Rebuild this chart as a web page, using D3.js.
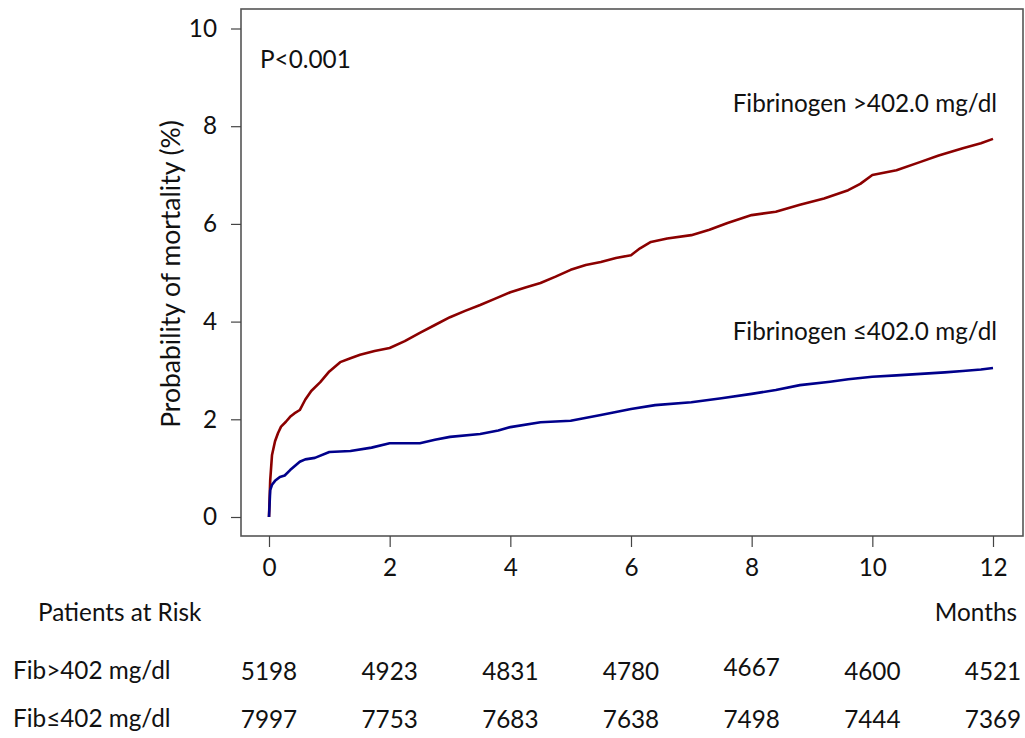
<!DOCTYPE html>
<html><head><meta charset="utf-8">
<script src="https://cdn.jsdelivr.net/npm/d3@7"></script>
<style>body{margin:0;background:#fff}svg{display:block}text{font-family:Lato,"Open Sans",sans-serif;fill:#111}</style>
</head><body>
<svg id="c" width="1025" height="738"></svg>
<script>
const months=[0,2,4,6,8,10,12];
const yTicks=[0,2,4,6,8,10];
const highT=[0,0.02,0.05,0.1,0.15,0.2,0.28,0.35,0.42,0.51,0.6,0.7,0.85,1.0,1.18,1.35,1.51,1.75,2.0,2.25,2.5,2.75,3.0,3.25,3.5,3.75,4.0,4.25,4.5,4.75,5.0,5.25,5.5,5.75,6.0,6.15,6.33,6.6,7.0,7.3,7.6,8.0,8.4,8.8,9.2,9.6,9.8,10.0,10.4,10.8,11.1,11.5,11.8,12.0];
const highV=[0,0.75,1.27,1.55,1.72,1.85,1.95,2.05,2.12,2.19,2.4,2.58,2.76,2.98,3.17,3.25,3.32,3.4,3.46,3.6,3.77,3.93,4.09,4.22,4.34,4.47,4.6,4.7,4.79,4.92,5.06,5.16,5.22,5.3,5.36,5.5,5.63,5.7,5.77,5.88,6.02,6.18,6.25,6.39,6.52,6.69,6.82,7.0,7.1,7.27,7.4,7.55,7.65,7.74];
const lowT=[0,0.02,0.05,0.1,0.18,0.26,0.35,0.51,0.6,0.76,1.0,1.35,1.7,2.0,2.5,2.75,3.0,3.5,3.8,4.0,4.5,5.0,5.5,6.0,6.4,7.0,7.5,8.0,8.4,8.8,9.3,9.6,10.0,10.4,10.8,11.2,11.5,11.8,12.0];
const lowV=[0,0.55,0.66,0.74,0.82,0.85,0.96,1.13,1.18,1.21,1.33,1.35,1.42,1.51,1.51,1.58,1.64,1.70,1.77,1.84,1.94,1.97,2.09,2.21,2.29,2.35,2.43,2.52,2.6,2.70,2.77,2.82,2.87,2.9,2.93,2.96,2.99,3.02,3.05];
const riskHigh=[5198,4923,4831,4780,4667,4600,4521];
const riskLow=[7997,7753,7683,7638,7498,7444,7369];

const svg=d3.select("#c");
const x=d3.scaleLinear().domain([0,12]).range([269,993]);
const y=d3.scaleLinear().domain([0,10]).range([517,28.5]);
const box={l:241,t:9,r:1023,b:536};
const FS=24.3;

svg.append("rect").attr("x",box.l).attr("y",box.t).attr("width",box.r-box.l).attr("height",box.b-box.t)
  .attr("fill","none").attr("stroke","#555").attr("stroke-width",1.6);

const ya=svg.append("g").attr("transform",`translate(${box.l},0)`)
  .call(d3.axisLeft(y).tickValues(yTicks).tickSize(10).tickPadding(14));
ya.select(".domain").remove();
ya.selectAll("line").attr("stroke","#444").attr("stroke-width",1.2);
ya.selectAll("text").attr("font-size",FS).style("font-family","Lato,'Open Sans',sans-serif").attr("fill","#111");

const xa=svg.append("g").attr("transform",`translate(0,${box.b})`)
  .call(d3.axisBottom(x).tickValues(months).tickSize(11).tickPadding(12));
xa.select(".domain").remove();
xa.selectAll("line").attr("stroke","#444").attr("stroke-width",1.2);
xa.selectAll("text").attr("font-size",FS).style("font-family","Lato,'Open Sans',sans-serif").attr("fill","#111");

const line=d3.line().x(d=>x(d[0])).y(d=>y(d[1])).curve(d3.curveLinear);
svg.append("path").datum(highT.map((t,i)=>[t,highV[i]])).attr("d",line)
  .attr("fill","none").attr("stroke","#8b0000").attr("stroke-width",2.6).attr("stroke-linejoin","round");
svg.append("path").datum(lowT.map((t,i)=>[t,lowV[i]])).attr("d",line)
  .attr("fill","none").attr("stroke","#00008b").attr("stroke-width",2.6).attr("stroke-linejoin","round");

svg.append("text").attr("transform","translate(180,274) rotate(-90)").attr("text-anchor","middle")
  .attr("font-size",26.5).text("Probability of mortality (%)");
svg.append("text").attr("x",260).attr("y",68).attr("font-size",FS).text("P<0.001");
svg.append("text").attr("x",997).attr("y",112).attr("text-anchor","end").attr("font-size",FS).text("Fibrinogen >402.0 mg/dl");
svg.append("text").attr("x",997).attr("y",340).attr("text-anchor","end").attr("font-size",FS).text("Fibrinogen ≤402.0 mg/dl");
svg.append("text").attr("x",38).attr("y",621).attr("font-size",FS).text("Patients at Risk");
svg.append("text").attr("x",1017).attr("y",621).attr("text-anchor","end").attr("font-size",FS).text("Months");
svg.append("text").attr("x",13).attr("y",679).attr("font-size",FS).text("Fib>402 mg/dl");
svg.append("text").attr("x",13).attr("y",727).attr("font-size",FS).text("Fib≤402 mg/dl");
svg.selectAll(".rh").data(riskHigh).join("text").attr("class","rh")
  .attr("x",(d,i)=>x(months[i])).attr("y",(d,i)=>i===4?676:680).attr("text-anchor","middle").attr("font-size",FS).text(d=>d);
svg.selectAll(".rl").data(riskLow).join("text").attr("class","rl")
  .attr("x",(d,i)=>x(months[i])).attr("y",728).attr("text-anchor","middle").attr("font-size",FS).text(d=>d);
</script>
</body></html>
